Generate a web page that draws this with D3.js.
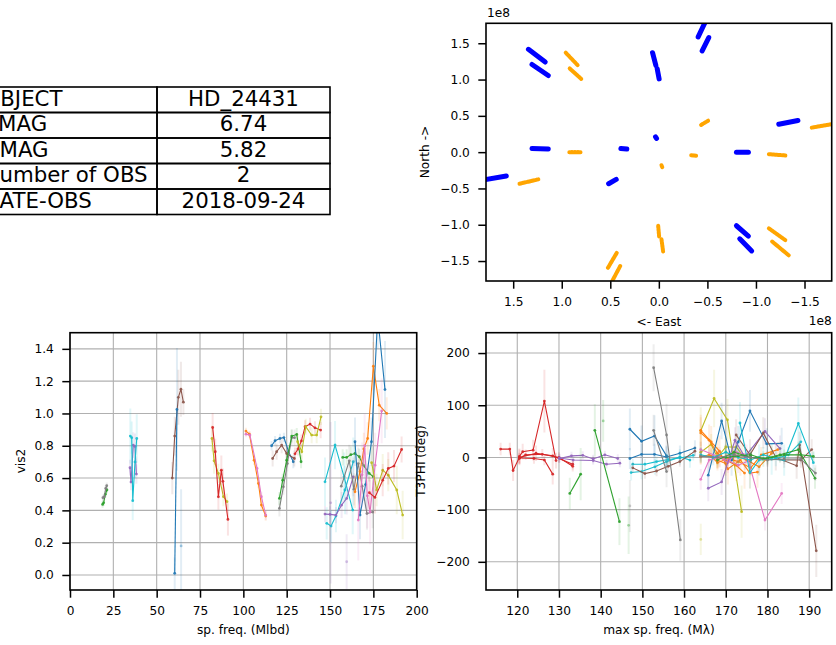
<!DOCTYPE html>
<html><head><meta charset="utf-8">
<script src="https://cdn.jsdelivr.net/npm/d3@7"></script>
<style>
body{margin:0;background:#fff;}
svg{display:block;font-family:"DejaVu Sans",sans-serif;}
</style></head><body>
<svg id="fig" width="836" height="645"></svg>
<script>
// ---------------- DATA ----------------
const tableKeys = ["OBJECT", "VMAG", "HMAG", "Number of OBS", "DATE-OBS"];
const tableVals = ["HD_24431", "6.74", "5.82", "2", "2018-09-24"];

// UV coverage tracks, units of 1e8: [u0, v0, u1, v1]
const uvBlue = [
  [1.343, 1.417, 1.170, 1.241], [1.306, 1.208, 1.139, 1.056],
  [0.065, 1.370, 0.031, 1.194], [0.017, 1.148, -0.003, 1.009],
  [-0.405, 1.588, -0.480, 1.800], [-0.446, 1.394, -0.514, 1.579],
  [1.306, 0.051, 1.139, 0.042], [0.391, 0.051, 0.330, 0.042],
  [0.034, 0.210, 0.024, 0.190], [0.517, -0.435, 0.439, -0.375],
  [1.800, -0.380, 1.571, -0.329], [-0.799, 0.000, -0.922, 0.000],
  [-1.235, 0.384, -1.432, 0.435], [-0.799, -1.014, -0.922, -1.157],
  [-0.833, -1.194, -0.956, -1.361]
];
const uvOrange = [
  [0.959, 1.370, 0.833, 1.194], [0.918, 1.153, 0.799, 1.009],
  [0.922, 0.000, 0.799, 0.000], [1.435, -0.435, 1.241, -0.375],
  [-0.435, 0.375, -0.510, 0.435], [-0.333, -0.042, -0.384, -0.051],
  [-0.027, -0.180, -0.037, -0.213], [-1.133, -0.028, -1.303, -0.046],
  [-1.575, 0.338, -1.800, 0.390], [0.007, -1.014, -0.003, -1.162],
  [-0.027, -1.199, -0.044, -1.370], [0.524, -1.593, 0.432, -1.384],
  [0.490, -1.800, 0.398, -1.569], [-1.133, -1.051, -1.303, -1.213],
  [-1.167, -1.231, -1.337, -1.421]
];
const uvTicks = [1.5, 1.0, 0.5, 0.0, -0.5, -1.0, -1.5];

// vis2 series: k = colour-cycle index, p = [sp.freq, vis2, err]
const vis2Series = [
  {k:2, p:[[18.8,0.437,0.02],[19.4,0.447,0.02],[20.4,0.50,0.02],[21.3,0.526,0.02]]},
  {k:7, p:[[19.0,0.478,0.02],[19.8,0.485,0.02],[20.6,0.536,0.02],[21.2,0.553,0.02]]},
  {k:4, p:[[34.6,0.664,0.05],[35.2,0.575,0.05],[36.5,0.804,0.08],[37.5,0.796,0.08],[38.3,0.625,0.06]]},
  {k:9, p:[[34.8,0.86,0.17],[35.6,0.85,0.10],[36.2,0.46,0.12],[37.5,0.70,0.10],[38.5,0.845,0.15]]},
  {k:5, p:[[59.0,0.60,0.10],[60.4,0.86,0.12],[62.5,1.10,0.17],[64.0,1.15,0.17],[65.4,1.07,0.08]]},
  {k:0, p:[[60.4,0.01,0.10],[61.7,1.025,0.38]]},
  {k:0, p:[[64.1,0.18,0.35]]},
  {k:8, p:[[81.9,0.845,0.08],[83.1,0.707,0.08],[85.6,0.629,0.06],[88.5,0.485,0.06],[90.6,0.454,0.05]]},
  {k:3, p:[[82.3,0.913,0.09],[83.8,0.763,0.08],[85.6,0.484,0.08],[87.3,0.649,0.09],[88.2,0.58,0.08],[91.1,0.344,0.10]]},
  {k:1, p:[[101.5,0.891,0.02],[103.5,0.872,0.02],[106.2,0.711,0.03],[108.7,0.567,0.03],[110.4,0.433,0.03],[112.9,0.365,0.03]]},
  {k:6, p:[[101.5,0.872,0.02],[103.8,0.866,0.02],[107.9,0.66,0.03],[110.4,0.485,0.03],[112.9,0.371,0.03]]},
  {k:0, p:[[116.3,0.80,0.03],[118.3,0.831,0.03],[121.1,0.845,0.03],[123.4,0.851,0.03],[126.1,0.763,0.04],[128.8,0.701,0.04]]},
  {k:5, p:[[116.9,0.721,0.05],[119.2,0.763,0.05],[122.1,0.804,0.05],[125.0,0.752,0.05],[129.4,0.721,0.05]]},
  {k:7, p:[[120.8,0.412,0.05],[123.1,0.546,0.05],[125.4,0.69,0.05],[127.9,0.851,0.05],[129.5,0.85,0.05]]},
  {k:2, p:[[120.8,0.474,0.04],[122.7,0.587,0.04],[125.0,0.711,0.04],[127.9,0.86,0.04],[130.8,0.87,0.04],[133.3,0.701,0.04]]},
  {k:3, p:[[129.8,0.75,0.04],[131.5,0.78,0.04],[133.5,0.83,0.04],[135.6,0.918,0.04],[138.5,0.934,0.04],[141.3,0.911,0.04],[144.6,0.897,0.05]]},
  {k:8, p:[[131.3,0.825,0.05],[133.7,0.763,0.05],[136.0,0.918,0.05],[139.4,0.866,0.05],[142.3,0.866,0.05],[144.8,0.979,0.05]]},
  {k:9, p:[[147.1,0.577,0.15],[152.9,0.804,0.15],[158.1,0.608,0.15],[163.1,0.402,0.15]]},
  {k:9, p:[[148.1,0.32,0.10],[150.6,0.303,0.10],[153.4,0.365,0.10],[158.6,0.526,0.15],[163.4,0.701,0.15]]},
  {k:4, p:[[147.1,0.377,0.05],[150.0,0.375,0.05],[153.4,0.371,0.05],[156.7,0.433,0.08],[159.6,0.474,0.10],[163.4,0.608,0.12]]},
  {k:4, p:[[150.4,0.447,0.50]]},
  {k:4, p:[[159.6,0.082,0.17]]},
  {k:2, p:[[157.3,0.728,0.05],[159.6,0.728,0.05],[162.0,0.745,0.05],[164.4,0.752,0.05],[166.9,0.732,0.05],[169.2,0.68,0.05],[172.6,0.629,0.05],[175.0,0.608,0.05]]},
  {k:7, p:[[156.5,0.55,0.10],[161.1,0.707,0.10],[163.8,0.53,0.10],[166.3,0.69,0.10],[168.5,0.55,0.10],[171.3,0.38,0.10],[174.6,0.39,0.10]]},
  {k:1, p:[[164.4,0.515,0.10],[167.3,0.64,0.10],[169.5,0.78,0.10],[171.7,0.845,0.10],[175.0,1.293,0.15],[178.4,1.051,0.10],[182.7,1.0,0.10]]},
  {k:0, p:[[164.4,0.825,0.15],[167.3,0.371,0.15],[170.5,0.56,0.15],[173.9,0.825,0.15],[177.5,1.6,0.20],[181.7,1.148,0.30]]},
  {k:6, p:[[166.3,0.34,0.25],[168.5,0.62,0.20],[170.0,0.80,0.20],[171.5,0.49,0.20],[173.1,0.39,0.20],[176.0,0.68,0.20],[179.8,1.016,0.20]]},
  {k:8, p:[[174.0,0.695,0.10],[176.9,0.526,0.10],[180.4,0.649,0.10],[183.6,0.618,0.10],[188.5,0.526,0.15],[191.9,0.371,0.15]]},
  {k:3, p:[[172.7,0.509,0.10],[175.9,0.48,0.10],[180.4,0.587,0.10],[183.6,0.66,0.10],[186.9,0.674,0.10],[191.3,0.777,0.08]]}
];
const vis2XTicks = [0, 25, 50, 75, 100, 125, 150, 175, 200];
const vis2YTicks = [0.0, 0.2, 0.4, 0.6, 0.8, 1.0, 1.2, 1.4];

// closure phase series: k = colour-cycle index, p = [max sp.freq, T3PHI, err]
const t3Series = [
  {k:3, p:[[116.0,16,12],[118.2,16,12],[119.0,-25,20],[120.5,0,15],[124.5,8,15],[128.5,3,15],[133.3,-13,10]]},
  {k:3, p:[[120.5,2,15],[121.3,11,15],[123.8,14,20],[126.5,108,60],[129.3,-6,15]]},
  {k:3, p:[[120.5,-2,10],[122.0,5,10],[126.0,6,10],[130.0,0,10],[133.3,-17,10]]},
  {k:3, p:[[120.5,-1,10],[124.0,-2,10],[126.5,-5,10],[128.5,-32,20]]},
  {k:4, p:[[130.1,-2,8],[133.0,3,8],[135.7,4,8],[138.2,-3,8],[141.0,5,8],[144.1,-2,8]]},
  {k:4, p:[[130.1,-1,8],[133.4,-5,8],[138.2,-6,8],[141.4,-13,8],[144.6,-11,8]]},
  {k:2, p:[[132.6,-69,30],[135.2,-32,50]]},
  {k:2, p:[[138.6,52,50],[144.5,-123,45]]},
  {k:2, p:[[140.6,70,40]]},
  {k:2, p:[[146.7,-130,55]]},
  {k:7, p:[[147.0,-93,50]]},
  {k:0, p:[[147.0,54,40],[149.8,31,30],[152.9,41,40],[155.8,3,20]]},
  {k:0, p:[[147.0,-2,20],[149.8,6,20],[152.9,6,20],[155.8,1,20],[159.0,8,15],[162.6,18,15]]},
  {k:9, p:[[147.3,-29,15],[149.8,-27,15],[153.0,-18,15],[155.8,-8,15],[159.0,1,15],[161.4,-5,15]]},
  {k:9, p:[[147.7,-13,10],[150.6,-13,10],[153.4,-8,10],[156.2,-4,10],[159.0,-1,10],[162.2,4,10]]},
  {k:5, p:[[147.7,-20,10],[150.6,-31,10],[153.4,-26,10],[156.2,-17,10],[159.0,-8,10],[162.6,12,10]]},
  {k:7, p:[[152.7,172,45],[155.8,43,60],[159.1,-158,40]]},
  {k:7, p:[[152.7,52,30],[155.8,-27,30]]},
  {k:8, p:[[164.0,51,45],[167.2,113,55],[170.4,72,40],[173.8,-104,50]]},
  {k:8, p:[[164.0,-157,30]]},
  {k:8, p:[[164.0,10,20],[166.5,25,20],[168.0,0,20],[170.0,20,20],[172.5,20,20],[174.0,5,20]]},
  {k:1, p:[[164.0,52,30],[166.5,30,30],[168.5,12,30],[170.5,-22,30],[173.5,-5,30],[175.8,-30,30],[177.6,-28,30]]},
  {k:1, p:[[164.0,47,30],[166.0,33,30],[168.0,8,30],[170.0,-5,30],[172.5,-15,30],[174.5,-30,30]]},
  {k:1, p:[[164.0,3,15],[166.5,2,15],[168.0,-10,15],[170.5,-2,15],[173.0,-8,15],[176.0,-20,15],[178.5,5,15],[182.5,15,15]]},
  {k:1, p:[[164.0,1,15],[166.0,5,15],[168.0,-5,15],[170.0,-12,15],[172.0,5,15],[175.0,-5,15],[178.0,-18,15],[181.0,8,15]]},
  {k:0, p:[[165.8,-34,25],[169.0,70,35],[171.4,-5,30],[173.0,30,30],[175.8,89,40],[179.8,26,30],[183.4,27,30]]},
  {k:6, p:[[164.0,-42,20],[166.0,-5,20],[168.5,0,20],[170.5,-10,20],[172.5,10,20],[175.0,5,20],[179.4,-120,20],[183.4,-69,20]]},
  {k:6, p:[[164.0,15,15],[167.0,5,15],[170.0,-3,15],[173.0,-15,15],[176.0,-5,15]]},
  {k:4, p:[[165.8,-59,25],[169.0,-47,25],[172.2,33,25],[174.6,1,25],[179.4,50,25],[183.0,17,25]]},
  {k:5, p:[[172.5,43,30],[175.8,5,30],[179.0,47,30],[182.0,0,25],[187.0,-16,25],[187.7,24,25],[191.7,-179,50]]},
  {k:5, p:[[176.0,0,15],[180.0,-3,15],[184.0,-5,15],[188.0,-5,15],[190.6,15,20]]},
  {k:9, p:[[173.4,66,40],[175.8,-29,30],[178.0,-5,30],[181.0,-3,30],[184.0,-5,30],[187.4,65,50],[191.0,-10,20]]},
  {k:9, p:[[164.0,5,15],[167.0,0,15],[170.0,10,15],[173.0,0,15],[176.0,-5,15],[179.0,5,15],[182.0,-2,15],[185.0,5,15],[188.0,30,20]]},
  {k:2, p:[[170.0,0,15],[173.0,3,15],[176.0,5,15],[179.0,-3,15],[183.0,5,15],[187.4,15,15],[191.4,-40,20]]},
  {k:2, p:[[168.0,-5,10],[172.0,10,10],[176.0,0,10],[180.0,-2,10],[184.0,5,10],[188.0,5,10],[191.0,2,10]]},
  {k:7, p:[[164.0,2,10],[168.0,0,10],[172.0,5,10],[176.0,0,10],[180.0,-5,10],[184.0,-3,10],[188.0,-3,10],[191.5,-30,15]]}
];
const t3XTicks = [120, 130, 140, 150, 160, 170, 180, 190];
const t3YTicks = [-200, -100, 0, 100, 200];

// ---------------- DRAWING ----------------
const svg = d3.select("#fig");
const tab = d3.schemeCategory10;
const FS = 12.2;
const TFS = 21.3;
const minus = s => s.replace(/-/g, "\u2212");

// --- table ---
(function drawTable() {
  const g = svg.append("g");
  const rows = d3.scaleBand().domain(d3.range(tableKeys.length)).range([87, 214.5]);
  const h = rows.bandwidth();
  tableKeys.forEach((k, i) => {
    const y = rows(i);
    g.append("rect").attr("x", -60).attr("y", y).attr("width", 217).attr("height", h)
      .attr("fill", "none").attr("stroke", "#000").attr("stroke-width", 1.6);
    g.append("rect").attr("x", 157).attr("y", y).attr("width", 173).attr("height", h)
      .attr("fill", "none").attr("stroke", "#000").attr("stroke-width", 1.6);
    g.append("text").attr("x", -16.5).attr("y", y + h / 2).attr("dy", "0.28em")
      .attr("font-size", TFS).text(k);
    g.append("text").attr("x", 243.5).attr("y", y + h / 2).attr("dy", "0.28em")
      .attr("text-anchor", "middle").attr("font-size", TFS).text(tableVals[i]);
  });
})();

let clipN = 0;
function makeAxes(o) {
  const x = d3.scaleLinear().domain(o.xd).range([o.l, o.r]);
  const y = d3.scaleLinear().domain(o.yd).range([o.b, o.t]);
  const g = svg.append("g");
  const id = "clip" + (clipN++);
  g.append("clipPath").attr("id", id).append("rect")
    .attr("x", o.l).attr("y", o.t).attr("width", o.r - o.l).attr("height", o.b - o.t);
  if (o.grid) {
    const gg = g.append("g").attr("stroke", "#b0b0b0").attr("stroke-width", 1.1);
    o.xt.forEach(v => gg.append("line").attr("x1", x(v)).attr("x2", x(v)).attr("y1", o.t).attr("y2", o.b));
    o.yt.forEach(v => gg.append("line").attr("y1", y(v)).attr("y2", y(v)).attr("x1", o.l).attr("x2", o.r));
  }
  const plot = g.append("g").attr("clip-path", `url(#${id})`);
  const over = svg.append("g");
  return {x, y, plot, over, o};
}
function finishAxes(A) {
  const {x, y, over, o} = A;
  const ax = over.append("g").attr("transform", `translate(0,${o.b})`)
    .call(d3.axisBottom(x).tickValues(o.xt).tickFormat(o.xf).tickSize(7.7).tickPadding(8.5));
  const ay = over.append("g").attr("transform", `translate(${o.l},0)`)
    .call(d3.axisLeft(y).tickValues(o.yt).tickFormat(o.yf).tickSize(7.7).tickPadding(8.5));
  [ax, ay].forEach(a => {
    a.select(".domain").remove();
    a.selectAll("line").attr("stroke", "#000").attr("stroke-width", 1.5);
    a.selectAll("text").attr("font-size", FS).attr("font-family", "DejaVu Sans").attr("fill", "#000");
  });
  over.append("rect").attr("x", o.l).attr("y", o.t).attr("width", o.r - o.l).attr("height", o.b - o.t)
    .attr("fill", "none").attr("stroke", "#000").attr("stroke-width", 1.6);
}

// --- UV plot ---
const uv = makeAxes({l: 486, r: 831.7, t: 23.3, b: 281, xd: [1.78, -1.78], yd: [-1.775, 1.775],
  xt: uvTicks, yt: uvTicks, xf: d => minus(d3.format(".1f")(d)), yf: d => minus(d3.format(".1f")(d)), grid: false});
uv.plot.selectAll("line.o").data(uvOrange).join("line").attr("class", "o")
  .attr("x1", d => uv.x(d[0])).attr("y1", d => uv.y(d[1])).attr("x2", d => uv.x(d[2])).attr("y2", d => uv.y(d[3]))
  .attr("stroke", "orange").attr("stroke-width", 4).attr("stroke-linecap", "round").attr("stroke-dasharray", "2.2,0.8");
uv.plot.selectAll("line.b").data(uvBlue).join("line").attr("class", "b")
  .attr("x1", d => uv.x(d[0])).attr("y1", d => uv.y(d[1])).attr("x2", d => uv.x(d[2])).attr("y2", d => uv.y(d[3]))
  .attr("stroke", "blue").attr("stroke-width", 5).attr("stroke-linecap", "round");
finishAxes(uv);
uv.over.append("text").attr("x", 487).attr("y", 16.5).attr("font-size", FS).text("1e8");
uv.over.append("text").attr("x", 831.7).attr("y", 325).attr("text-anchor", "end").attr("font-size", FS).text("1e8");
uv.over.append("text").attr("x", 659).attr("y", 326).attr("text-anchor", "middle").attr("font-size", FS).text("<- East");
uv.over.append("text").attr("transform", "translate(429,152) rotate(-90)").attr("text-anchor", "middle")
  .attr("font-size", FS).text("North ->");

// --- series drawing helper ---
function drawSeries(A, series) {
  const line = d3.line().x(d => A.x(d[0])).y(d => A.y(d[1]));
  series.forEach(s => {
    const c = tab[s.k];
    const g = A.plot.append("g");
    g.selectAll("line").data(s.p).join("line")
      .attr("x1", d => A.x(d[0])).attr("x2", d => A.x(d[0]))
      .attr("y1", d => A.y(d[1] - d[2])).attr("y2", d => A.y(d[1] + d[2]))
      .attr("stroke", c).attr("stroke-opacity", 0.13).attr("stroke-width", 2);
    if (s.p.length > 1)
      g.append("path").attr("d", line(s.p)).attr("fill", "none").attr("stroke", c).attr("stroke-width", 1.1);
    g.selectAll("circle").data(s.p).join("circle")
      .attr("cx", d => A.x(d[0])).attr("cy", d => A.y(d[1])).attr("r", 1.4)
      .attr("fill", c).attr("fill-opacity", s.p.length > 1 ? 0.9 : 0.4);
  });
}

// --- vis2 plot ---
const v2 = makeAxes({l: 70, r: 416.7, t: 332.7, b: 590, xd: [0, 200], yd: [-0.093, 1.5],
  xt: vis2XTicks, yt: vis2YTicks, xf: d3.format("d"), yf: d3.format(".1f"), grid: true});
drawSeries(v2, vis2Series);
finishAxes(v2);
v2.over.append("text").attr("x", 243.3).attr("y", 634).attr("text-anchor", "middle").attr("font-size", FS).text("sp. freq. (Mlbd)");
v2.over.append("text").attr("transform", "translate(25,461) rotate(-90)").attr("text-anchor", "middle")
  .attr("font-size", FS).text("vis2");

// --- T3PHI plot ---
const t3 = makeAxes({l: 486, r: 831.7, t: 332.7, b: 590, xd: [112.5, 195.4], yd: [-254, 239],
  xt: t3XTicks, yt: t3YTicks, xf: d3.format("d"), yf: d => minus(d3.format("d")(d)), grid: true});
drawSeries(t3, t3Series);
finishAxes(t3);
t3.over.append("text").attr("x", 658.9).attr("y", 634).attr("text-anchor", "middle").attr("font-size", FS).text("max sp. freq. (M\u03bb)");
t3.over.append("text").attr("transform", "translate(425,461) rotate(-90)").attr("text-anchor", "middle")
  .attr("font-size", FS).text("T3PHI (deg)");
</script>
</body></html>
